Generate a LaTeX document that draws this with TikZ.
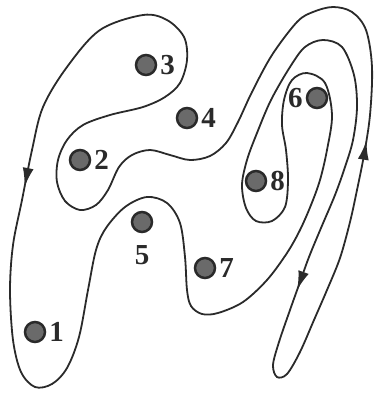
\documentclass[tikz,border=0pt]{standalone}
\usepackage{fontspec}
\setmainfont{Liberation Serif}
\usetikzlibrary{arrows.meta,positioning,decorations.markings}
\definecolor{ink}{HTML}{2A2A2A}
\definecolor{dotgray}{HTML}{6A6A6A}

\begin{document}
\begin{tikzpicture}[x=1pt,y=-1pt,
  site/.style={circle,draw=ink,line width=2.5pt,fill=dotgray,minimum size=20pt,inner sep=0pt},
  lab/.style={font=\fontsize{29}{29}\selectfont\bfseries,text=ink,inner sep=0pt},
  routetip/.tip={Latex[length=19pt,width=11pt]},
  tour/.style={draw,color=ink,line width=1.8pt,postaction={decorate},
    decoration={markings,
      mark=at position 0.060 with {\arrow{routetip}},
      mark=at position 0.589 with {\arrow{routetip}},
      mark=at position 0.707 with {\arrow{routetip}}}}
]
\useasboundingbox (0,0) rectangle (379,394);

% the closed route through all sites
\draw[tour] plot[smooth cycle,tension=0.55] coordinates {
  (143,15) (100,30) (67,67) (43,107) (32,150) (22,200) (13,245) (10,290)
  (13,340) (21,372) (35,387) (52,384) (67,368) (79,337) (88,290) (96,250)
  (106,228) (125,207) (147,197) (167,203) (180,223) (185,257) (187,290)
  (191,306) (202,314) (218,313) (243,302) (267,280) (287,253) (300,230)
  (311,205) (320,180) (327,150) (332,115) (325,83) (307,73) (292,80)
  (284,100) (282,125) (286,150) (288,180) (285,207) (272,221) (256,221)
  (246,208) (242,185) (247,160) (257,133) (271,100) (290,67) (305,47)
  (323,40) (342,47) (354,75) (357,107) (353,140) (345,167) (335,195)
  (321,228) (309,257) (300,282) (290,310) (279,342) (273,365) (277,377)
  (287,374) (300,352) (314,320) (327,290) (340,258) (350,222) (357,190)
  (364,155) (370,115) (372,67) (366,30) (352,12) (333,7) (313,12) (297,22)
  (272,55) (252,92) (238,122) (226,143) (210,156) (190,160) (170,155)
  (150,150) (132,155) (119,167) (108,190) (96,205) (80,210) (65,201)
  (57,182) (58,160) (67,140) (83,125) (110,115) (143,107) (165,97)
  (180,83) (187,60) (184,37) (167,20)};

% sites
\node[site] (s1) at (35,332) {};
\node[site] (s2) at (80,160) {};
\node[site] (s3) at (146,65) {};
\node[site] (s4) at (187,118) {};
\node[site] (s5) at (142,222) {};
\node[site] (s6) at (317,98) {};
\node[site] (s7) at (205,268) {};
\node[site] (s8) at (256,181) {};

\node[lab,right=3pt of s1] {1};
\node[lab,right=3pt of s2] {2};
\node[lab,right=3pt of s3] {3};
\node[lab,right=3pt of s4] {4};
\node[lab,below=12pt of s5] {5};
\node[lab,left=3pt of s6] {6};
\node[lab,right=3pt of s7] {7};
\node[lab,right=3pt of s8] {8};
\end{tikzpicture}
\end{document}
